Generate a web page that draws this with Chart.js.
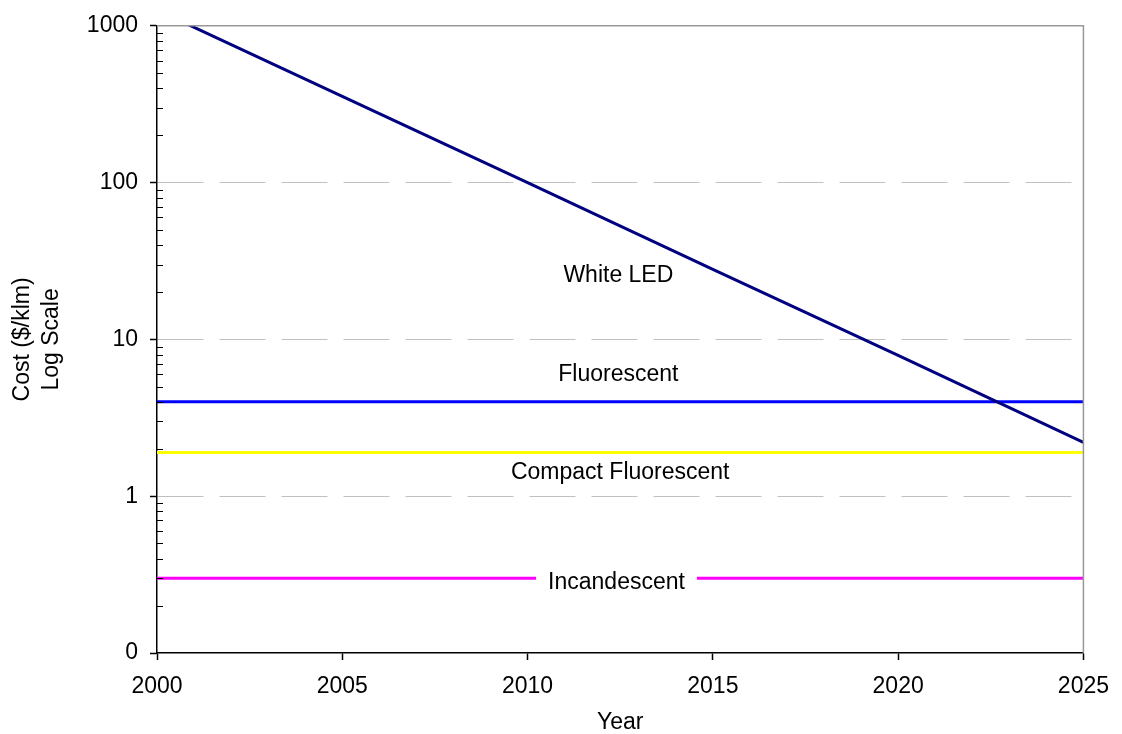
<!DOCTYPE html>
<html>
<head>
<meta charset="utf-8">
<title>Lighting cost</title>
<script src="https://cdn.jsdelivr.net/npm/chart.js@4.4.0/dist/chart.umd.min.js"></script>
<style>
  html, body { margin: 0; padding: 0; background: #fff; }
  #wrap { width: 1122px; height: 734px; }
</style>
</head>
<body>
<div id="wrap"><canvas id="chart"></canvas></div>
<script>
// Годы по оси X
const years = [2000, 2005, 2010, 2015, 2020, 2025];
// Стоимость света, $/klm
const whiteLed = [1260, 355, 100, 28, 7.9, 2.2];
const fluorescent = [4, 4, 4, 4, 4, 4];
const compactFluorescent = [1.9, 1.9, 1.9, 1.9, 1.9, 1.9];
const incandescent = [0.3, 0.3, 0.3, 0.3, 0.3, 0.3];

// Деления осей
const xTicks = [2000, 2005, 2010, 2015, 2020, 2025];
const yTicks = [0.1, 1, 10, 100, 1000];

// Подписи серий прямо на графике: текст, год, стоимость
const seriesNames = ['White LED', 'Fluorescent', 'Compact Fluorescent', 'Incandescent'];
const nameYears = [2012.45, 2012.45, 2012.5, 2012.4];
const nameCosts = [25.6, 5.93, 1.41, 0.282];

const FONT = '"Liberation Sans", Arial, sans-serif';
const toPoints = vals => vals.map((v, i) => ({ x: years[i], y: v }));

// Рамка, мелкие деления и подписи серий
const decorPlugin = {
  id: 'decor',
  afterDraw(chart) {
    const { ctx, chartArea: a, scales } = chart;
    const y = scales.y;
    ctx.save();

    // серая рамка сверху и справа
    ctx.strokeStyle = '#999';
    ctx.lineWidth = 1.5;
    ctx.beginPath();
    ctx.moveTo(a.left, a.top);
    ctx.lineTo(a.right, a.top);
    ctx.lineTo(a.right, a.bottom);
    ctx.stroke();

    // мелкие деления логарифмической оси (внутрь)
    ctx.strokeStyle = '#000';
    ctx.lineWidth = 1;
    [0.1, 1, 10, 100].forEach(d => {
      for (let k = 2; k <= 9; k++) {
        const py = Math.round(y.getPixelForValue(d * k)) + 0.5;
        ctx.beginPath();
        ctx.moveTo(a.left, py);
        ctx.lineTo(a.left + 6, py);
        ctx.stroke();
      }
    });

    // названия серий
    ctx.font = '23px ' + FONT;
    ctx.textAlign = 'center';
    ctx.textBaseline = 'middle';
    seriesNames.forEach((name, i) => {
      const px = scales.x.getPixelForValue(nameYears[i]);
      const py = y.getPixelForValue(nameCosts[i]);
      if (name === 'Incandescent') {
        const w = ctx.measureText(name).width;
        ctx.fillStyle = '#fff';
        ctx.fillRect(px - w / 2 - 12, py - 14, w + 24, 28);
      }
      ctx.fillStyle = '#000';
      ctx.fillText(name, px, py);
    });
    ctx.restore();
  }
};

const ctx = document.getElementById('chart').getContext('2d');
new Chart(ctx, {
  type: 'line',
  data: {
    datasets: [
      { label: 'White LED', data: toPoints(whiteLed), borderColor: '#000080', borderWidth: 3 },
      { label: 'Fluorescent', data: toPoints(fluorescent), borderColor: '#0000ff', borderWidth: 3 },
      { label: 'Compact Fluorescent', data: toPoints(compactFluorescent), borderColor: '#ffff00', borderWidth: 3 },
      { label: 'Incandescent', data: toPoints(incandescent), borderColor: '#ff00ff', borderWidth: 3 }
    ]
  },
  options: {
    responsive: true,
    maintainAspectRatio: false,
    animation: false,
    clip: 0,
    elements: { point: { radius: 0 }, line: { tension: 0 } },
    layout: { padding: { top: 23, right: 28, bottom: 0, left: 0 } },
    plugins: { legend: { display: false }, tooltip: { enabled: false } },
    scales: {
      x: {
        type: 'linear',
        min: 2000,
        max: 2025,
        afterBuildTicks: s => { s.ticks = xTicks.map(v => ({ value: v })); },
        afterFit: s => { s.height = 81; },
        ticks: { color: '#000', padding: 13, font: { family: FONT, size: 23 }, callback: v => String(v) },
        grid: { drawOnChartArea: false, tickLength: 7, tickColor: '#000', tickWidth: 1.5 },
        border: { color: '#000', width: 1.5 },
        title: { display: true, text: 'Year', color: '#000', font: { family: FONT, size: 23, lineHeight: 1 }, padding: { top: 0, bottom: 0 } }
      },
      y: {
        type: 'logarithmic',
        min: 0.1,
        max: 1000,
        afterBuildTicks: s => { s.ticks = yTicks.map(v => ({ value: v })); },
        afterFit: s => { s.width = 157; },
        ticks: { color: '#000', padding: 12, font: { family: FONT, size: 23 }, callback: v => (v < 1 ? '0' : String(v)) },
        grid: {
          color: c => (c.tick && (c.tick.value === 0.1 || c.tick.value === 1000)) ? 'rgba(0,0,0,0)' : '#c0c0c0',
          lineWidth: 1,
          tickLength: 7,
          tickColor: '#000',
          tickWidth: 1.5
        },
        border: { color: '#000', width: 1.5, dash: [46, 16] },
        title: {
          display: true,
          text: ['Cost ($/klm)', 'Log Scale'],
          color: '#000',
          font: { family: FONT, size: 23, lineHeight: 29 / 23 },
          padding: { top: 8.5, bottom: 0 }
        }
      }
    }
  },
  plugins: [decorPlugin]
});
</script>
</body>
</html>
